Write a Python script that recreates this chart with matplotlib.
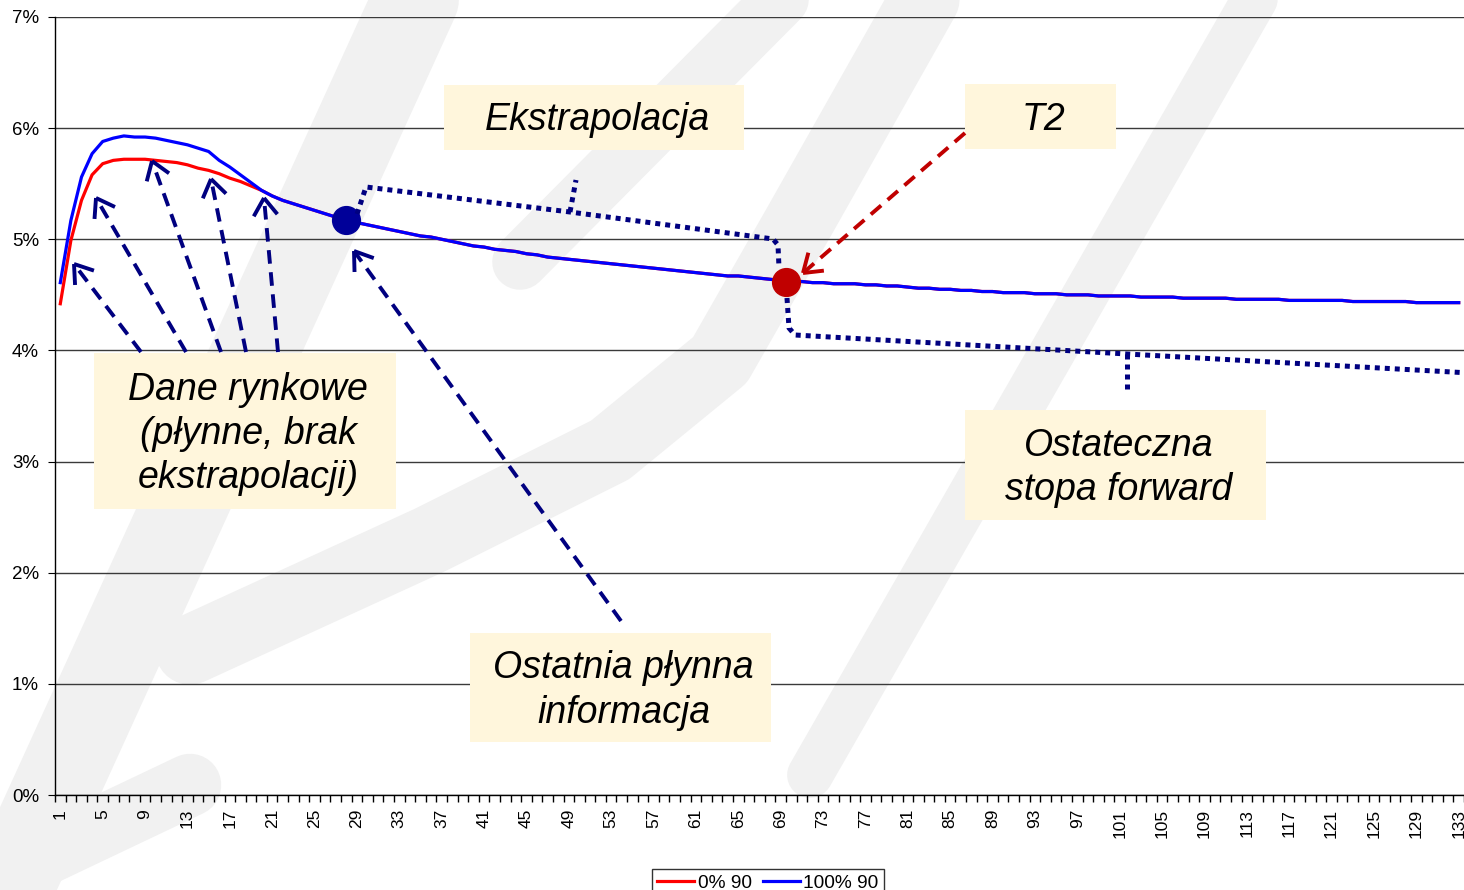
import numpy as np
import matplotlib
matplotlib.use('Agg')
import matplotlib.pyplot as plt
from matplotlib.lines import Line2D
from matplotlib.patches import Rectangle
from matplotlib.ticker import FuncFormatter

W, H = 1464, 890

# data (percent)
periods = list(range(1, 134))
blue_100 = [
    4.61, 5.17, 5.56, 5.77, 5.88, 5.91, 5.93, 5.92, 5.92, 5.91,
    5.89, 5.87, 5.85, 5.82, 5.79, 5.71, 5.65, 5.58, 5.51, 5.44,
    5.39, 5.35, 5.32, 5.29, 5.26, 5.23, 5.20, 5.17, 5.15, 5.13,
    5.11, 5.09, 5.07, 5.05, 5.03, 5.02, 5.00, 4.98, 4.96, 4.94,
    4.93, 4.91, 4.90, 4.89, 4.87, 4.86, 4.84, 4.83, 4.82, 4.81,
    4.80, 4.79, 4.78, 4.77, 4.76, 4.75, 4.74, 4.73, 4.72, 4.71,
    4.70, 4.69, 4.68, 4.67, 4.67, 4.66, 4.65, 4.64, 4.63, 4.62,
    4.62, 4.61, 4.61, 4.60, 4.60, 4.60, 4.59, 4.59, 4.58, 4.58,
    4.57, 4.56, 4.56, 4.55, 4.55, 4.54, 4.54, 4.53, 4.53, 4.52,
    4.52, 4.52, 4.51, 4.51, 4.51, 4.50, 4.50, 4.50, 4.49, 4.49,
    4.49, 4.49, 4.48, 4.48, 4.48, 4.48, 4.47, 4.47, 4.47, 4.47,
    4.47, 4.46, 4.46, 4.46, 4.46, 4.46, 4.45, 4.45, 4.45, 4.45,
    4.45, 4.45, 4.44, 4.44, 4.44, 4.44, 4.44, 4.44, 4.43, 4.43,
    4.43, 4.43, 4.43,
]
red_0_head = [4.42, 4.99, 5.35, 5.58, 5.68, 5.71, 5.72, 5.72, 5.72, 5.71,
              5.70, 5.69, 5.67, 5.64, 5.62, 5.59, 5.55, 5.52, 5.48, 5.44]
red_0 = red_0_head + blue_100[len(red_0_head):]
series_names = ['0% 90', '100% 90']
tick_periods = periods[::4]
last_liquid = 28      # "Ostatnia płynna informacja"
t2_period = 69.5      # "T2"

plt.rcParams['font.family'] = ['Liberation Sans', 'DejaVu Sans']

fig = plt.figure(figsize=(W / 100, H / 100), dpi=100)
fig.patch.set_facecolor('white')


def P(x, y):
    # picture pixels (top-left origin) -> figure fraction
    return x / W, 1 - y / H


def fig_line(pts, **kw):
    xs, ys = zip(*[P(x, y) for x, y in pts])
    fig.add_artist(Line2D(xs, ys, transform=fig.transFigure, **kw))


# faint watermark strokes behind the chart
wm = dict(color='#f1f1f1', solid_capstyle='round', solid_joinstyle='round', zorder=-5)
fig_line([(5, 900), (420, -10)], lw=62, **wm)
fig_line([(-10, 880), (190, 785)], lw=45, **wm)
fig_line([(190, 650), (430, 540), (610, 450), (720, 360), (800, 220), (930, -10)], lw=50, **wm)
fig_line([(520, 262), (790, -10)], lw=40, **wm)
fig_line([(810, 775), (1260, -10)], lw=33, **wm)

ax = fig.add_axes([55 / W, (H - 795) / H, (W - 55) / W, (795 - 17) / H])
ax.set_facecolor('none')

ax.plot(periods, red_0, color='#ff0000', lw=2.3, label=series_names[0], zorder=3)
ax.plot(periods, blue_100, color='#0000ff', lw=2.3, label=series_names[1], zorder=4)

ax.plot(last_liquid, blue_100[last_liquid - 1], 'o', color='#000099', ms=20, zorder=6)
ax.plot(t2_period, blue_100[int(t2_period)], 'o', color='#c00000', ms=20, zorder=6)

ax.set_xlim(0.5, 133.5)
ax.set_ylim(0, 7)
ax.set_yticks(range(8))
ax.yaxis.set_major_formatter(FuncFormatter(lambda v, p: f'{v:.0f}%'))
ax.grid(axis='y', color='#3a3a3a', lw=1)
ax.set_axisbelow(True)

ax.set_xticks(tick_periods)
ax.set_xticklabels([str(p) for p in tick_periods], rotation=90, va='top')
ax.set_xticks(np.arange(0.5, 134, 1), minor=True)
ax.tick_params(axis='x', which='major', length=0, pad=10, labelsize=12.5)
ax.tick_params(axis='x', which='minor', length=5, direction='out', width=1)
ax.tick_params(axis='y', length=5, direction='out', labelsize=13.5, pad=6.5)

for s in ['top', 'right']:
    ax.spines[s].set_visible(False)
for s in ['left', 'bottom']:
    ax.spines[s].set_color('black')
    ax.spines[s].set_linewidth(1)

leg = fig.legend(loc='upper center', bbox_to_anchor=(768 / W, 1 - 859 / H), ncol=2,
                 fontsize=13.8, frameon=True, fancybox=False, handlelength=1.9,
                 handletextpad=0.2, columnspacing=0.6, borderpad=0.3)
leg.get_frame().set_edgecolor('black')
leg.get_frame().set_linewidth(1)

# text boxes
box_color = '#fff6dc'
boxes = [
    ((444, 85, 744, 150), 'Ekstrapolacja'),
    ((965, 84, 1116, 149), 'T2'),
    ((94, 353, 396, 509), 'Dane rynkowe\n(płynne, brak\nekstrapolacji)'),
    ((470, 633, 771, 742), 'Ostatnia płynna\ninformacja'),
    ((965, 410, 1266, 520), 'Ostateczna\nstopa forward'),
]
for (x0, y0, x1, y1), label in boxes:
    fx, fy = P(x0, y1)
    fig.add_artist(Rectangle((fx, fy), (x1 - x0) / W, (y1 - y0) / H,
                             transform=fig.transFigure, facecolor=box_color,
                             edgecolor='none', zorder=2))
    cx, cy = P((x0 + x1) / 2 + 3, (y0 + y1) / 2 + 3)
    fig.text(cx, cy, label, ha='center', va='center', fontsize=27,
             style='italic', linespacing=1.3, zorder=3)


def dashed_arrow(start, tip, color):
    fig_line([start, tip], color=color, lw=2.8, ls=(0, (3.5, 2.2)), zorder=5)
    sx, sy = start
    tx, ty = tip
    ang = np.arctan2(sy - ty, sx - tx)
    for d in (0.6, -0.6):
        hx = tx + 21 * np.cos(ang + d)
        hy = ty + 21 * np.sin(ang + d)
        fig_line([(hx, hy), (tx, ty)], color=color, lw=2.8, zorder=5,
                 solid_capstyle='butt')


navy = '#000080'
for start, tip in [((141, 352), (74, 264)), ((186, 352), (96, 198)),
                   ((221, 352), (152, 161)), ((246, 352), (211, 179)),
                   ((278, 352), (264, 198)), ((621, 621), (354, 251))]:
    dashed_arrow(start, tip, navy)
dashed_arrow((965, 133), (803, 273), '#c00000')

# dotted braces
dot = dict(color=navy, lw=3.6, ls=(0, (1, 1)), dash_capstyle='butt', zorder=5)
fig_line([(357, 214), (366, 187), (570, 212), (773, 239), (778, 245), (779, 268)], **dot)
fig_line([(570, 212), (576, 180)], **dot)
fig_line([(787, 298), (789, 328), (795, 335), (1127, 354), (1470, 373)], **dot)
fig_line([(1127, 354), (1127, 392)], **dot)

fig.savefig('out.png', dpi=100)
